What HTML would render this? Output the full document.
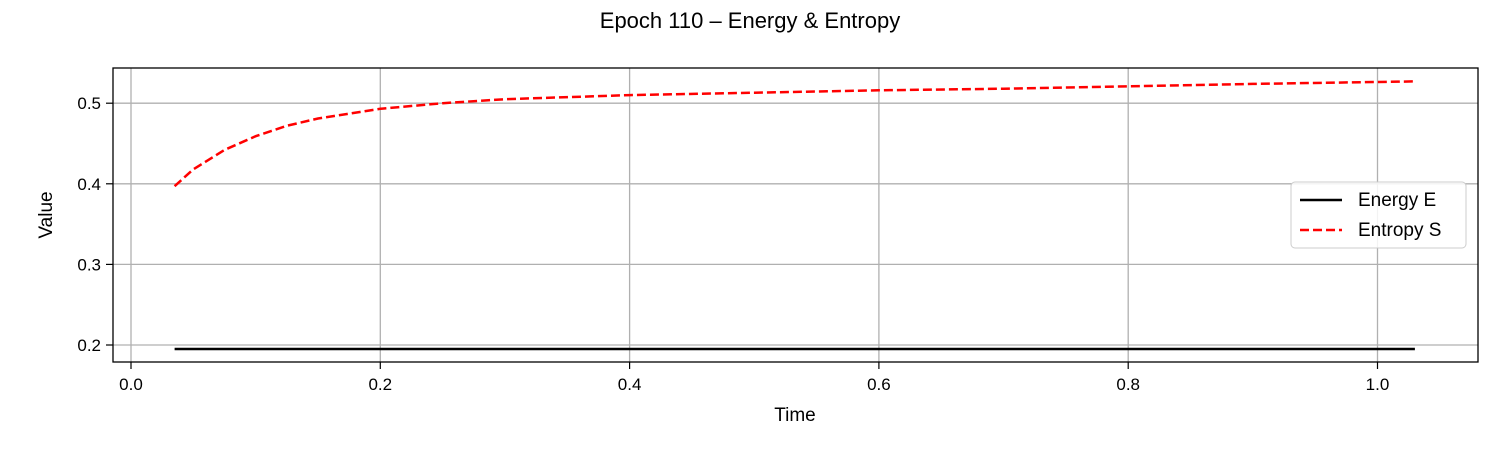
<!DOCTYPE html>
<html><head><meta charset="utf-8"><style>
body{margin:0;background:#fff;font-family:"Liberation Sans","DejaVu Sans",sans-serif;}
</style></head><body>
<svg width="1500" height="450" xmlns="http://www.w3.org/2000/svg" font-family="Liberation Sans, DejaVu Sans, sans-serif">
<text x="750" y="28" text-anchor="middle" font-size="22">Epoch 110 – Energy &amp; Entropy</text>
<g id="grid"></g>
<g id="ticks"></g>
<g id="series"></g>
<rect x="113" y="68" width="1365" height="294" fill="none" stroke="#000" stroke-width="1.3"/>
<text x="795" y="421" text-anchor="middle" font-size="19">Time</text>
<text x="52" y="215" text-anchor="middle" font-size="19" transform="rotate(-90 52 215)">Value</text>
<g>
<rect x="1291" y="182" width="175" height="66" rx="4" fill="#fff" fill-opacity="0.85" stroke="#ccc"/>
<line x1="1300" y1="200" x2="1342" y2="200" stroke="#000" stroke-width="2.5"/>
<text x="1358" y="206" font-size="19">Energy E</text>
<line x1="1300" y1="230" x2="1342" y2="230" stroke="#f00" stroke-width="2.5" stroke-dasharray="9,4"/>
<text x="1358" y="236" font-size="19">Entropy S</text>
</g>
</svg>
<script>
const xTicks=[0.0,0.2,0.4,0.6,0.8,1.0];
const yTicks=[0.2,0.3,0.4,0.5];
const energyT=[0.035,1.03];
const energyV=[0.195,0.195];
const entropyT=[0.035,0.05,0.075,0.1,0.125,0.15,0.2,0.25,0.3,0.4,0.5,0.6,0.7,0.8,0.9,1.03];
const entropyV=[0.397,0.418,0.442,0.459,0.472,0.481,0.493,0.500,0.505,0.510,0.513,0.516,0.518,0.521,0.524,0.527];
const xs=v=>131+v*1246.5, ys=v=>345-(v-0.2)*806;
const NS="http://www.w3.org/2000/svg";
const grid=document.getElementById('grid'),ticks=document.getElementById('ticks'),ser=document.getElementById('series');
function mk(tag,attrs,parent){const e=document.createElementNS(NS,tag);for(const k in attrs)e.setAttribute(k,attrs[k]);parent.appendChild(e);return e;}
xTicks.forEach(t=>{const x=xs(t);
 let g=mk('line',{x1:x,x2:x,y1:68,y2:362,stroke:'#b0b0b0','stroke-width':1.3},grid);
 
 
 let tk=mk('line',{x1:x,x2:x,y1:362,y2:369,stroke:'#000','stroke-width':1.2},ticks);
 
 
 let l=mk('text',{x:x,y:390,'text-anchor':'middle','font-size':17},ticks);l.textContent=t.toFixed(1);
 
 });
yTicks.forEach(t=>{const y=ys(t);
 let g=mk('line',{x1:113,x2:1478,y1:y,y2:y,stroke:'#b0b0b0','stroke-width':1.3},grid);
 
 
 let tk=mk('line',{x1:106,x2:113,y1:y,y2:y,stroke:'#000','stroke-width':1.2},ticks);
 
 
 let l=mk('text',{x:101,y:y+6,'text-anchor':'end','font-size':17},ticks);l.textContent=t.toFixed(1);
 
 });
const pts=(T,V)=>T.map((t,i)=>xs(t).toFixed(1)+','+ys(V[i]).toFixed(1)).join(' ');
let e=mk('polyline',{points:pts(energyT,energyV),fill:'none',stroke:'#000','stroke-width':2.5},ser);


let s=mk('polyline',{points:pts(entropyT,entropyV),fill:'none',stroke:'#f00','stroke-width':2.5,'stroke-dasharray':'9,4'},ser);


</script>
</body></html>
